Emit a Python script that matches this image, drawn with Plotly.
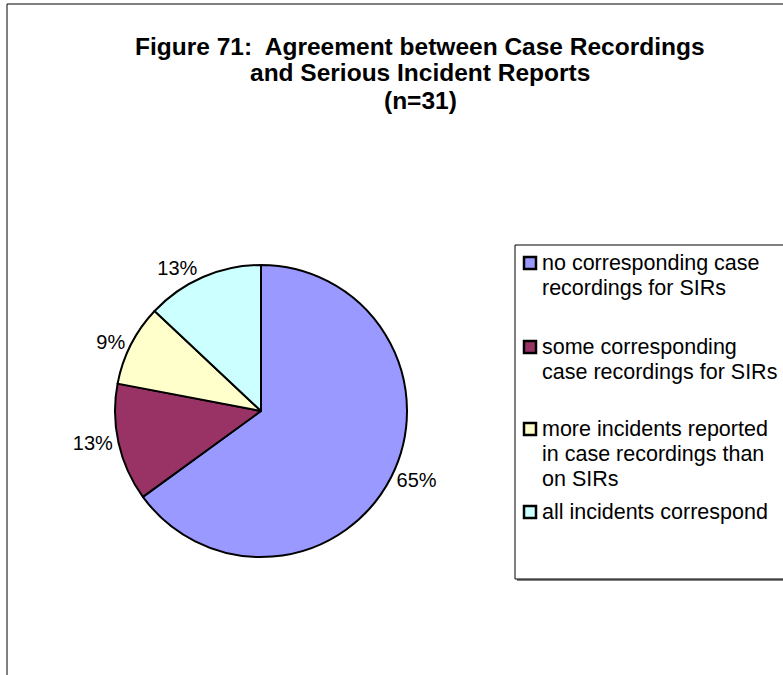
"""Figure 71 pie: agreement between case recordings and serious incident reports."""

import plotly.graph_objects as go

W, H = 783, 675
FONT = "Arial, Liberation Sans, sans-serif"

# data (percentages of n=31)
categories = [
    "no corresponding case\nrecordings for SIRs",
    "some corresponding\ncase recordings for SIRs",
    "more incidents reported\nin case recordings than\non SIRs",
    "all incidents correspond",
]
values = [65, 13, 9, 13]
colors = ["#9999FF", "#993366", "#FFFFCC", "#CCFFFF"]
title_lines = [
    "Figure 71:  Agreement between Case Recordings",
    "and Serious Incident Reports",
    "(n=31)",
]


def px_x(x):
    return x / W


def px_y(y):
    return 1 - y / H


fig = go.Figure(
    go.Pie(
        labels=[c.replace("\n", " ") for c in categories],
        values=values,
        sort=False,
        direction="clockwise",
        rotation=0,
        marker=dict(colors=colors, line=dict(color="black", width=2)),
        textinfo="percent",
        texttemplate="%{percent:.0%}",
        textposition="outside",
        textfont=dict(family=FONT, size=20, color="black"),
        domain=dict(x=[px_x(115), px_x(407)], y=[px_y(557), px_y(265)]),
        showlegend=False,
        hoverinfo="label+percent",
    )
)

shapes = [
    # outer chart frame (runs off the right and bottom of the picture)
    dict(type="rect", xref="paper", yref="paper",
         x0=px_x(7), x1=px_x(W + 30), y0=px_y(4), y1=px_y(H + 30),
         line=dict(color="black", width=1)),
    # legend box shadow + box
    dict(type="rect", xref="paper", yref="paper",
         x0=px_x(517), x1=px_x(W + 30), y0=px_y(247), y1=px_y(581),
         line=dict(width=0), fillcolor="#808080"),
    dict(type="rect", xref="paper", yref="paper",
         x0=px_x(515), x1=px_x(W + 30), y0=px_y(245), y1=px_y(579),
         line=dict(color="black", width=1), fillcolor="white"),
]
annotations = []

for i, line in enumerate(title_lines):
    annotations.append(
        dict(text=f"<b>{line}</b>", xref="paper", yref="paper",
             x=px_x(420), y=px_y(46 + i * 27),
             xanchor="center", yanchor="middle", showarrow=False,
             font=dict(family=FONT, size=24.5, color="black"))
    )

entry_y = [263, 347, 429, 512]
line_step = 25
for label, col, y in zip(categories, colors, entry_y):
    shapes.append(
        dict(type="rect", xref="paper", yref="paper",
             x0=px_x(524), x1=px_x(536), y0=px_y(y - 6), y1=px_y(y + 6),
             line=dict(color="black", width=2.5), fillcolor=col)
    )
    for i, line in enumerate(label.split("\n")):
        annotations.append(
            dict(text=line, xref="paper", yref="paper",
                 x=px_x(540), y=px_y(y + i * line_step),
                 xanchor="left", yanchor="middle", showarrow=False,
                 font=dict(family=FONT, size=21.5, color="black"))
        )

fig.update_layout(
    width=W,
    height=H,
    margin=dict(l=0, r=0, t=0, b=0),
    paper_bgcolor="white",
    plot_bgcolor="white",
    shapes=shapes,
    annotations=annotations,
)

# drop the default page margin so the figure sits at the window's corner
fig.write_html(
    "out.html",
    config={"displayModeBar": False},
    post_script="document.body.style.margin = '0';",
)
